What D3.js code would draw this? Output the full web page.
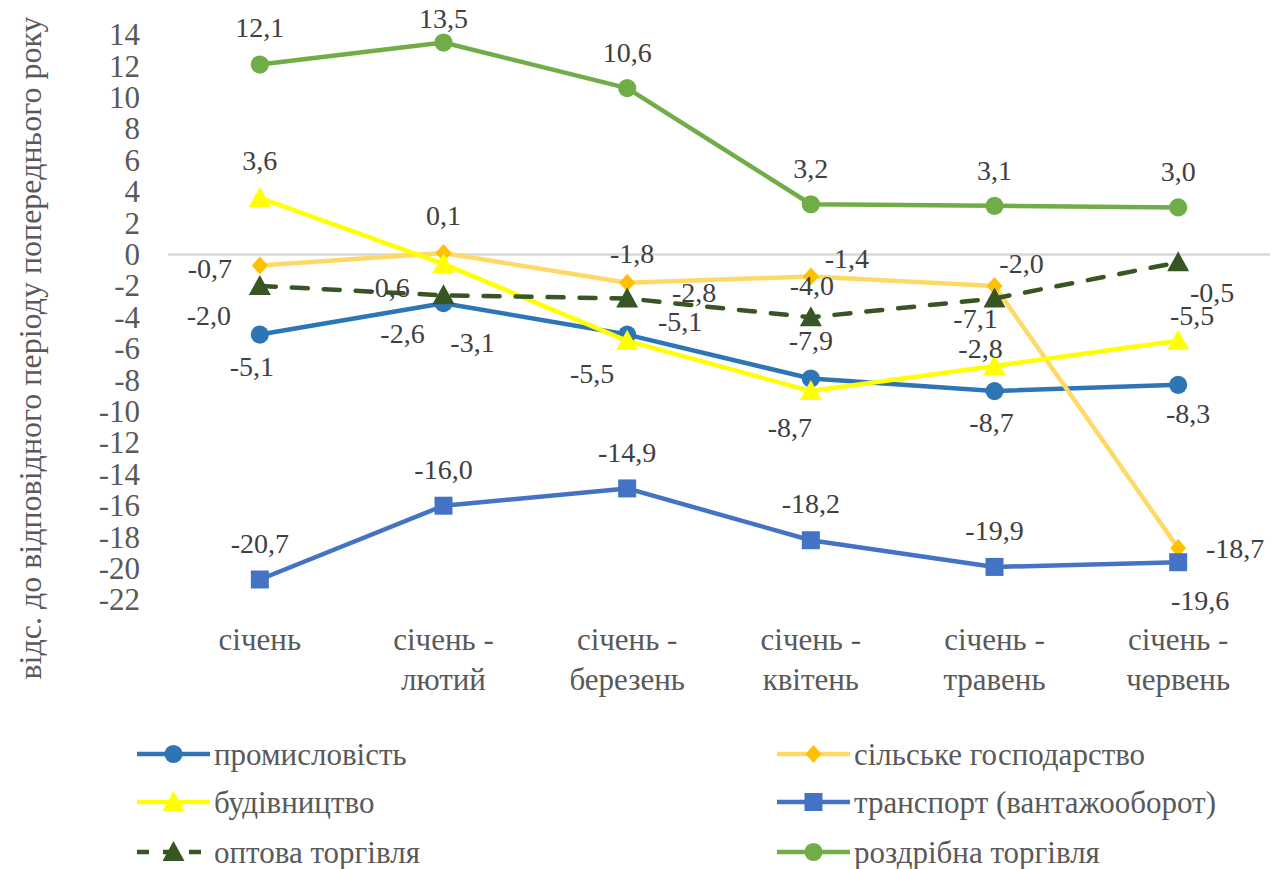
<!DOCTYPE html>
<html>
<head>
<meta charset="utf-8">
<script src="https://cdn.jsdelivr.net/npm/d3@7"></script>
<style>
  html, body { margin: 0; padding: 0; background: #fff; }
  svg { display: block; }
</style>
</head>
<body>
<div id="chart"></div>
<script>
// Periods (cumulative from January)
const categories = ['січень', 'січень - лютий', 'січень - березень', 'січень - квітень', 'січень - травень', 'січень - червень'];

// Series values, % to the same period of the previous year
const industry = [-5.1, -3.1, -5.1, -7.9, -8.7, -8.3];
const agriculture = [-0.7, 0.1, -1.8, -1.4, -2.0, -18.7];
const construction = [3.6, -0.6, -5.5, -8.7, -7.1, -5.5];
const transport = [-20.7, -16.0, -14.9, -18.2, -19.9, -19.6];
const wholesale = [-2.0, -2.6, -2.8, -4.0, -2.8, -0.5];
const retail = [12.1, 13.5, 10.6, 3.2, 3.1, 3.0];

const seriesNames = ['промисловість', 'сільське господарство', 'будівництво', 'транспорт (вантажооборот)', 'оптова торгівля', 'роздрібна торгівля'];
const yTicks = d3.range(-22, 15, 2);

const FONT = '"Liberation Serif", "Times New Roman", serif';

// Styling per series (drawn in legend order); offs = data label offsets in px
const series = [
    { name: seriesNames[0], values: industry, line: '#2E75B6', fill: '#2E75B6', marker: 'circle', dash: null,
      offs: [[-8, 32], [29, 39], [53, -13], [0, -38], [-3, 31], [10, 28]] },
    { name: seriesNames[1], values: agriculture, line: '#FFD966', fill: '#FFC000', marker: 'diamond', dash: null,
      offs: [[-50, 3], [0, -38], [5, -30], [36, -18], [27, -23], [57, 0]] },
    { name: seriesNames[2], values: construction, line: '#FFFF00', fill: '#FFFF00', marker: 'triangle', dash: null,
      offs: [[0, -38], [-56, 23], [-35, 32], [-21, 36], [-19, -48], [14, -26]] },
    { name: seriesNames[3], values: transport, line: '#4472C4', fill: '#4472C4', marker: 'square', dash: null,
      offs: [[0, -36], [0, -37], [0, -36], [0, -37], [0, -37], [22, 38]] },
    { name: seriesNames[4], values: wholesale, line: '#375623', fill: '#375623', marker: 'triangle', dash: '16,16',
      offs: [[-51, 29], [-41, 38], [67, -6], [1, -32], [-14, 50], [34, 30]] },
    { name: seriesNames[5], values: retail, line: '#70AD47', fill: '#70AD47', marker: 'circle', dash: null,
      offs: [[0, -37], [0, -24], [0, -36], [0, -36], [0, -36], [0, -36]] },
];

const width = 1274, height = 869;
const svg = d3.select('#chart').append('svg')
    .attr('width', width)
    .attr('height', height);

const x = d3.scaleBand().domain(categories).range([168, 1270]);
const cx = c => x(c) + x.bandwidth() / 2;
const y = d3.scaleLinear().domain([-22, 14]).range([599.9, 34.7]);

// Zero line
svg.append('line')
    .attr('x1', 168).attr('x2', 1270)
    .attr('y1', y(0)).attr('y2', y(0))
    .attr('stroke', '#D9D9D9')
    .attr('stroke-width', 2.5);

// Y axis
const yAxis = svg.append('g')
    .attr('transform', 'translate(146,0)')
    .call(d3.axisLeft(y).tickValues(yTicks).tickSize(0).tickPadding(6).tickFormat(d => String(d)));
yAxis.select('.domain').remove();
yAxis.selectAll('text')
    .attr('fill', '#595959')
    .style('font-size', '31px')
    .style('font-family', FONT);

// Y title
svg.append('text')
    .attr('transform', 'translate(30,348) rotate(-90)')
    .attr('text-anchor', 'middle')
    .attr('dy', '0.35em')
    .attr('fill', '#595959')
    .style('font-size', '32px')
    .style('font-family', FONT)
    .text('відс. до відповідного періоду попереднього року');

// Category labels
const xl = svg.append('g').selectAll('text')
    .data(categories)
    .join('text')
    .attr('text-anchor', 'middle')
    .attr('fill', '#595959')
    .style('font-size', '31px')
    .style('font-family', FONT);
xl.each(function (c) {
    const parts = c.split(' - ');
    const t = d3.select(this);
    parts.forEach((p, i) => {
        t.append('tspan')
            .attr('x', cx(c))
            .attr('y', 650 + i * 40)
            .text(i < parts.length - 1 ? p + ' -' : p);
    });
});

function markerPath(type) {
    if (type === 'circle') return d3.symbol(d3.symbolCircle, 260)();
    if (type === 'square') return 'M-9,-9H9V9H-9Z';
    if (type === 'triangle') return 'M0,-11L11,9H-11Z';
    if (type === 'diamond') return 'M0,-9L8,0L0,9L-8,0Z';
}

const line = d3.line()
    .x((d, i) => cx(categories[i]))
    .y(d => y(d));

// Lines and markers
series.forEach(s => {
    const g = svg.append('g');
    g.append('path')
        .datum(s.values)
        .attr('d', line)
        .attr('fill', 'none')
        .attr('stroke', s.line)
        .attr('stroke-width', 4.5)
        .attr('stroke-linejoin', 'round')
        .attr('stroke-linecap', s.dash ? 'round' : 'butt')
        .attr('stroke-dasharray', s.dash);
    g.selectAll('path.m')
        .data(s.values)
        .join('path')
        .attr('class', 'm')
        .attr('d', markerPath(s.marker))
        .attr('transform', (d, i) => `translate(${cx(categories[i])},${y(d)})`)
        .attr('fill', s.fill);
});

// Data labels
series.forEach(s => {
    svg.append('g').selectAll('text')
        .data(s.values)
        .join('text')
        .attr('x', (d, i) => cx(categories[i]) + s.offs[i][0])
        .attr('y', (d, i) => y(d) + s.offs[i][1])
        .attr('dy', '0.35em')
        .attr('text-anchor', 'middle')
        .attr('fill', '#404040')
        .style('font-size', '28px')
        .style('font-family', FONT)
        .text(d => d.toFixed(1).replace('.', ','));
});

// Legend
const legend = svg.append('g').selectAll('g')
    .data(series)
    .join('g')
    .attr('transform', (d, i) => `translate(${i % 2 === 0 ? 137 : 777},${[754, 802, 852][Math.floor(i / 2)]})`);
legend.append('line')
    .attr('x1', 0).attr('x2', 73)
    .attr('stroke', d => d.line)
    .attr('stroke-width', 4.5)
    .attr('stroke-dasharray', d => d.dash ? '12,14' : null);
legend.append('path')
    .attr('d', d => markerPath(d.marker))
    .attr('transform', 'translate(36.5,0)')
    .attr('fill', d => d.fill);
legend.append('text')
    .attr('x', 77)
    .attr('dy', '0.35em')
    .attr('fill', '#595959')
    .style('font-size', '31px')
    .style('font-family', FONT)
    .text(d => d.name);
</script>
</body>
</html>
